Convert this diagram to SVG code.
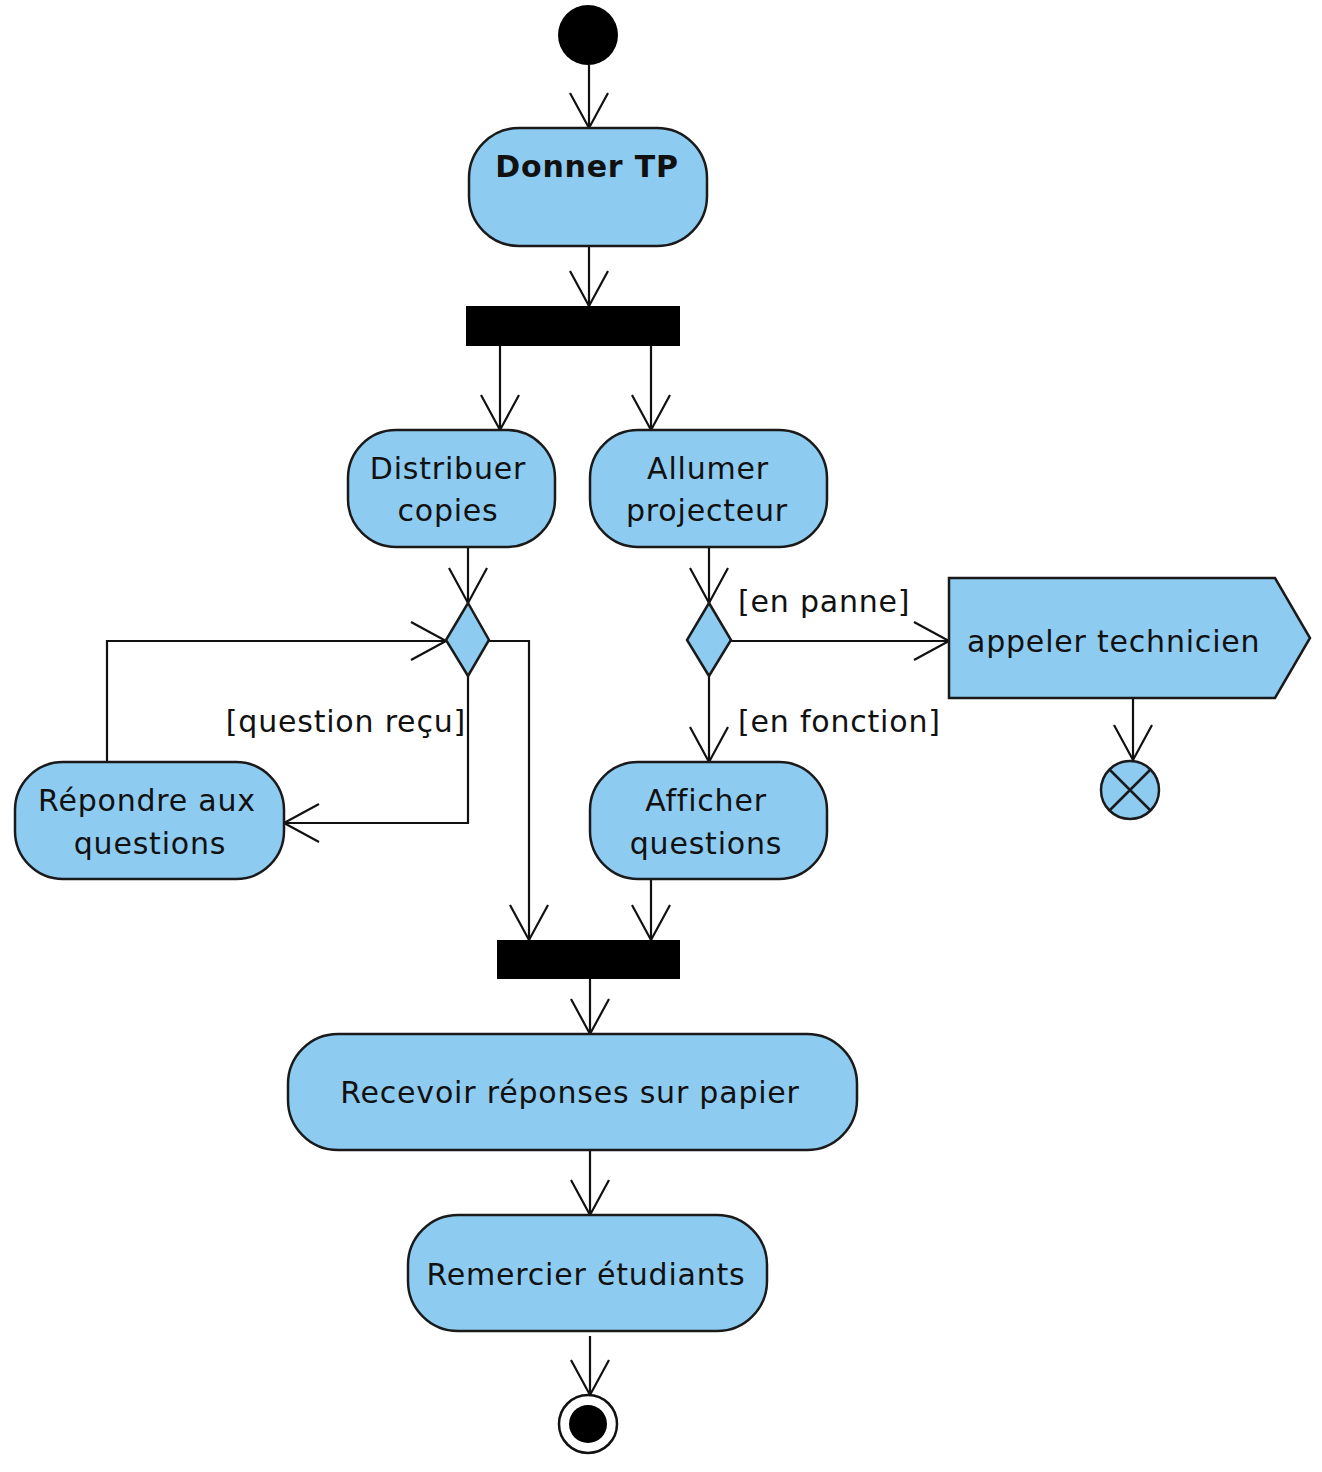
<svg xmlns="http://www.w3.org/2000/svg" width="1322" height="1472" viewBox="0 0 1322 1472">
<style>
.act{fill:#8ECBF0;stroke:#1a1a1a;stroke-width:2.5}
.bar{fill:#000;stroke:none}
.t{font-family:"DejaVu Sans","Liberation Sans",sans-serif;font-size:30px;fill:#111;letter-spacing:0.8px;text-anchor:middle}
.lbl{font-family:"DejaVu Sans","Liberation Sans",sans-serif;font-size:30px;fill:#111;letter-spacing:0.8px}
.c{fill:none;stroke:#111;stroke-width:2.2;marker-end:url(#arr)}
</style>
<defs>
<marker id="arr" markerUnits="userSpaceOnUse" viewBox="-40 -22 44 44" refX="0" refY="0" markerWidth="44" markerHeight="44" orient="auto">
<path d="M -35 -19 L 0 0 L -35 19" fill="none" stroke="#111" stroke-width="2.2"/>
</marker>
</defs>
<rect width="1322" height="1472" fill="#fff"/>
<g id="connectors">
<path class="c" d="M589 65 L589 128"/>
<path class="c" d="M589 246 L589 306"/>
<path class="c" d="M500 346 L500 430"/>
<path class="c" d="M651 346 L651 430"/>
<path class="c" d="M468 547 L468 603"/>
<path class="c" d="M709 547 L709 603"/>
<path class="c" d="M107 762 L107 641 L446 641"/>
<path class="c" d="M468 676 L468 823 L284 823"/>
<path class="c" d="M489 641 L529 641 L529 940"/>
<path class="c" d="M731 641 L949 641"/>
<path class="c" d="M709 676 L709 762"/>
<path class="c" d="M1133 698 L1133 760"/>
<path class="c" d="M651 879 L651 940"/>
<path class="c" d="M590 979 L590 1034"/>
<path class="c" d="M590 1150 L590 1215"/>
<path class="c" d="M590 1336 L590 1395"/>
<text class="lbl" x="466" y="732" text-anchor="end">[question reçu]</text>
<text class="lbl" x="738" y="612">[en panne]</text>
<text class="lbl" x="738" y="732">[en fonction]</text>
</g>
<g id="start"><circle cx="588" cy="35" r="30" fill="#000"/></g>
<g id="donner-tp">
<rect class="act" x="469" y="128" width="238" height="118" rx="50" ry="50"/>
<text class="t" x="587" y="177" font-weight="bold">Donner TP</text>
</g>
<g id="fork1"><rect class="bar" x="466" y="306" width="214" height="40"/></g>
<g id="distribuer-copies">
<rect class="act" x="348" y="430" width="207" height="117" rx="48" ry="48"/>
<text class="t" x="448" y="479">Distribuer</text>
<text class="t" x="448" y="521">copies</text>
</g>
<g id="allumer-projecteur">
<rect class="act" x="590" y="430" width="237" height="117" rx="48" ry="48"/>
<text class="t" x="708" y="479">Allumer</text>
<text class="t" x="707" y="521">projecteur</text>
</g>
<g id="decision1"><polygon class="act" points="468,603 489,640 468,676 446,640"/></g>
<g id="decision2"><polygon class="act" points="709,603 731,640 709,676 687,640"/></g>
<g id="appeler-technicien">
<polygon class="act" points="949,578 1275,578 1310,638 1275,698 949,698"/>
<text class="t" x="967" y="652" style="text-anchor:start">appeler technicien</text>
</g>
<g id="flow-final">
<circle class="act" cx="1130" cy="790" r="29"/>
<path d="M1109.5 769.5 L1150.5 810.5 M1150.5 769.5 L1109.5 810.5" stroke="#1a1a1a" stroke-width="2.5"/>
</g>
<g id="repondre-questions">
<rect class="act" x="15" y="762" width="269" height="117" rx="48" ry="48"/>
<text class="t" x="147" y="811">Répondre aux</text>
<text class="t" x="150" y="854">questions</text>
</g>
<g id="afficher-questions">
<rect class="act" x="590" y="762" width="237" height="117" rx="48" ry="48"/>
<text class="t" x="706" y="811">Afficher</text>
<text class="t" x="706" y="854">questions</text>
</g>
<g id="join"><rect class="bar" x="497" y="940" width="183" height="39"/></g>
<g id="recevoir-reponses">
<rect class="act" x="288" y="1034" width="569" height="116" rx="50" ry="50"/>
<text class="t" x="570" y="1103">Recevoir réponses sur papier</text>
</g>
<g id="remercier-etudiants">
<rect class="act" x="408" y="1215" width="359" height="116" rx="50" ry="50"/>
<text class="t" x="586" y="1285">Remercier étudiants</text>
</g>
<g id="final">
<circle cx="588" cy="1424" r="29" fill="#fff" stroke="#111" stroke-width="2.5"/>
<circle cx="588" cy="1424" r="19" fill="#000"/>
</g>
</svg>
